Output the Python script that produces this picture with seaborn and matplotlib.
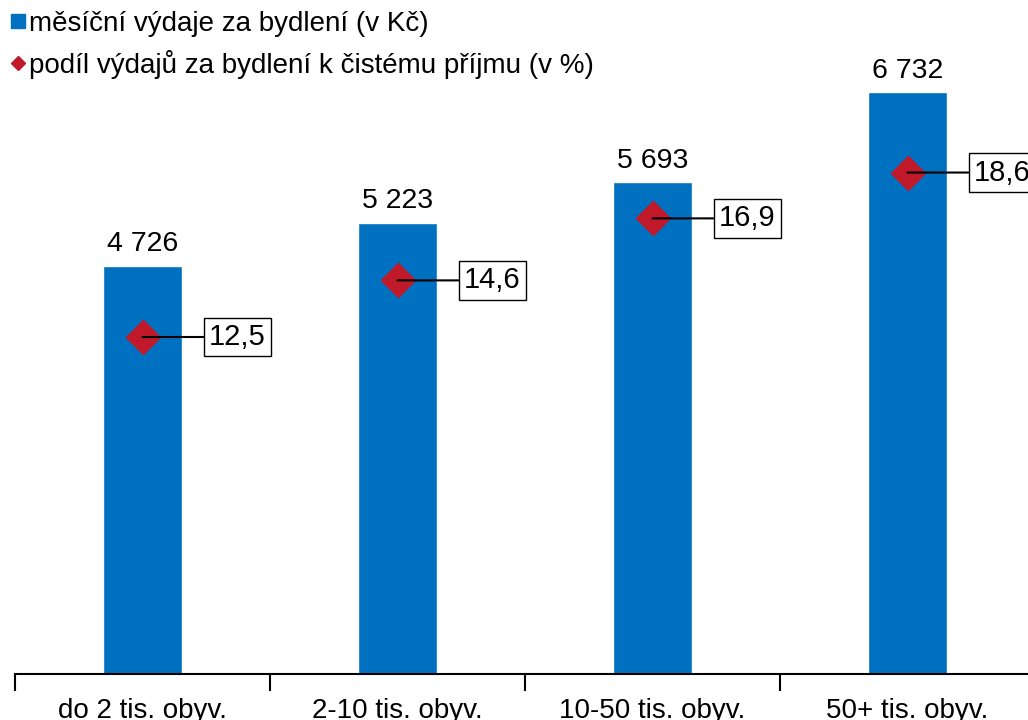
import pandas as pd
import seaborn as sns
from matplotlib import pyplot as plt
from matplotlib.lines import Line2D

CATEGORIES = ['do 2 tis. obyv.', '2-10 tis. obyv.', '10-50 tis. obyv.', '50+ tis. obyv.']
EXPENSES = [4726, 5223, 5693, 6732]          # Kč per month
SHARES = [12.5, 14.6, 16.9, 18.6]            # % of net income
LEGEND_LABELS = ['měsíční výdaje za bydlení (v Kč)',
                 'podíl výdajů za bydlení k čistému příjmu (v %)']

BLUE = '#0070C0'
RED = '#C0192A'

sns.set_theme(style='white')
plt.rcParams['font.family'] = ['Liberation Sans', 'DejaVu Sans']
plt.rcParams['text.color'] = 'black'
plt.rcParams['xtick.color'] = 'black'

df = pd.DataFrame({'kategorie': CATEGORIES, 'vydaje': EXPENSES, 'podil': SHARES})

fig = plt.figure(figsize=(10.28, 7.2), dpi=100)
ax = fig.add_axes([15 / 1028, 46 / 720, 1020 / 1028, 674 / 720])

sns.barplot(data=df, x='kategorie', y='vydaje', color=BLUE, saturation=1,
            width=0.31, ax=ax, zorder=2)
ax.set_ylim(0, 7800)
ax.set_xlim(-0.5, 3.5)

# value labels above bars, thousands separated by a space
ax.bar_label(ax.containers[0], labels=[f'{v:,}'.replace(',', ' ') for v in EXPENSES],
             padding=6, fontsize=20.5, color='black')

# secondary axis with the share diamonds
ax2 = ax.twinx()
sns.pointplot(data=df, x='kategorie', y='podil', ax=ax2, color=RED,
              marker='D', linestyle='none', markersize=16, errorbar=None, zorder=3)
ax2.set_ylim(0, 25)
ax2.set_xlim(-0.5, 3.5)
ax2.axis('off')

for i, v in enumerate(SHARES):
    ax2.annotate(f'{v:.1f}'.replace('.', ','), xy=(i, v), xytext=(95, 0),
                 textcoords='offset pixels', ha='center', va='center', fontsize=21,
                 bbox=dict(boxstyle='square,pad=0.18', fc='white', ec='black', lw=1),
                 arrowprops=dict(arrowstyle='-', color='black', lw=1.5,
                                 shrinkA=0, shrinkB=0),
                 zorder=4)

# axes styling
for side in ['left', 'right', 'top']:
    ax.spines[side].set_visible(False)
ax.spines['bottom'].set_color('black')
ax.spines['bottom'].set_linewidth(1.5)
ax.set_yticks([])
ax.set_xlabel('')
ax.set_ylabel('')
ax.set_xticks(range(len(CATEGORIES)))
ax.set_xticklabels(CATEGORIES, fontsize=20)
ax.set_xticks([-0.5, 0.5, 1.5, 2.5, 3.5], minor=True)
ax.tick_params(axis='x', which='major', length=0, pad=17, colors='black')
ax.tick_params(axis='x', which='minor', length=12, width=1.5, color='black', bottom=True)

handles = [Line2D([], [], marker='s', linestyle='none', color=BLUE, markersize=9.5),
           Line2D([], [], marker='D', linestyle='none', color=RED, markersize=7.5)]
fig.legend(handles, LEGEND_LABELS, loc='upper left', bbox_to_anchor=(0.0, 1.0),
           frameon=False, fontsize=20, handlelength=0.5, handletextpad=0.15,
           labelspacing=0.45, borderaxespad=0)

fig.savefig('out.png', dpi=100)
